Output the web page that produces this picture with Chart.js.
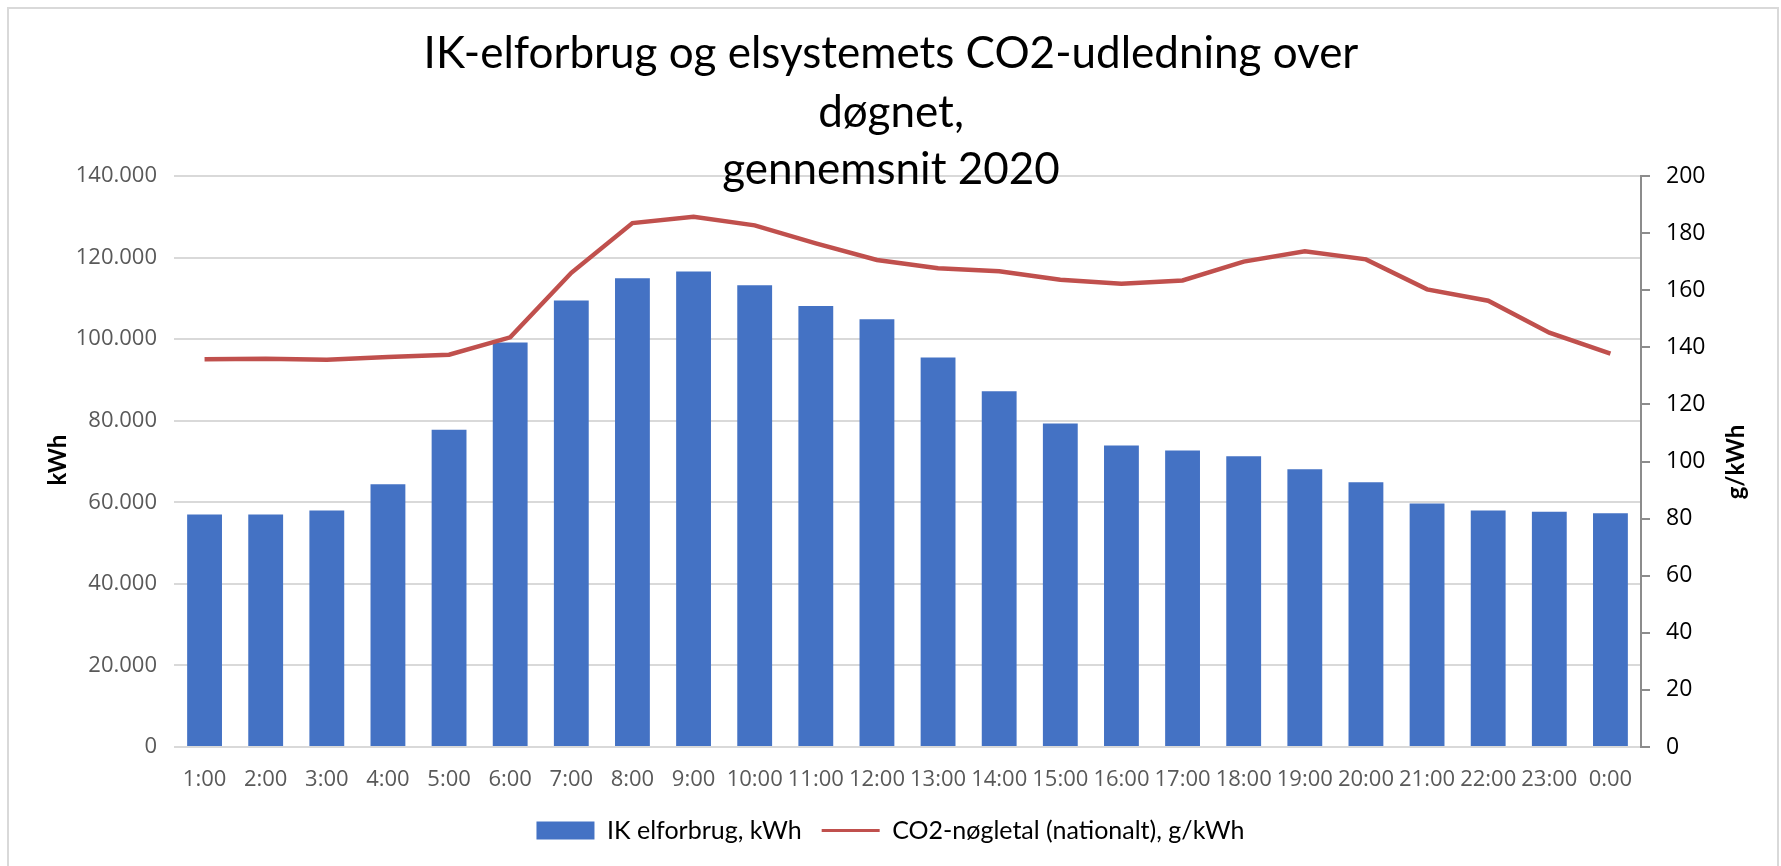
<!DOCTYPE html>
<html>
<head>
<meta charset="utf-8">
<script src="https://cdn.jsdelivr.net/npm/chart.js@4.4.1/dist/chart.umd.min.js"></script>
<style>
  html, body { margin: 0; padding: 0; background: #fff; overflow: hidden; }
  canvas { display: block; }
</style>
</head>
<body>
<canvas id="chart" width="1781" height="866"></canvas>
<script>
var hours = ["1:00", "2:00", "3:00", "4:00", "5:00", "6:00", "7:00", "8:00", "9:00", "10:00", "11:00", "12:00",
    "13:00", "14:00", "15:00", "16:00", "17:00", "18:00", "19:00", "20:00", "21:00", "22:00", "23:00", "0:00"];
// IK elforbrug, kWh
var kwhValues = [57000, 57000, 58000, 64400, 77800, 99200, 109500, 114900, 116600, 113200, 108100, 104900,
    95500, 87200, 79300, 73900, 72700, 71300, 68100, 64900, 59700, 58000, 57700, 57300];
// CO2-nøgletal (nationalt), g/kWh
var co2Values = [135.8, 136.0, 135.6, 136.6, 137.4, 143.5, 166.1, 183.5, 185.7, 182.7, 176.4, 170.6,
    167.7, 166.6, 163.7, 162.3, 163.4, 170.0, 173.6, 170.8, 160.3, 156.3, 145.1, 137.8];
var kwhTickLabels = ["0", "20.000", "40.000", "60.000", "80.000", "100.000", "120.000", "140.000"];
var titleLines = ["IK-elforbrug og elsystemets CO2-udledning over", "døgnet,", "gennemsnit 2020"];
var barLabel = "IK elforbrug, kWh";
var lineLabel = "CO2-nøgletal (nationalt), g/kWh";

var tickFont = { family: "'Open Sans', sans-serif", size: 22 };

// title, axis titles and the outer frame
var decorPlugin = {
    id: "decor",
    beforeDraw: function (chart) {
        var ctx = chart.ctx;
        ctx.save();
        ctx.fillStyle = "#fff";
        ctx.fillRect(0, 0, chart.width, chart.height);
        ctx.strokeStyle = "#d9d9d9";
        ctx.lineWidth = 2;
        ctx.strokeRect(8, 8, 1770, 900);
        ctx.restore();
    },
    afterDraw: function (chart) {
        var ctx = chart.ctx;
        ctx.save();
        ctx.fillStyle = "#000";
        ctx.textAlign = "center";
        ctx.textBaseline = "middle";
        ctx.font = "44px Lato, sans-serif";
        var ys = [54, 113, 170];
        for (var i = 0; i < titleLines.length; i++) {
            ctx.fillText(titleLines[i], 891, ys[i]);
        }
        ctx.font = "bold 24px Lato, sans-serif";
        ctx.translate(58, 460);
        ctx.rotate(-Math.PI / 2);
        ctx.fillText("kWh", 0, 0);
        ctx.restore();
        ctx.save();
        ctx.fillStyle = "#000";
        ctx.textAlign = "center";
        ctx.textBaseline = "middle";
        ctx.font = "bold 24px Lato, sans-serif";
        ctx.translate(1736, 462);
        ctx.rotate(-Math.PI / 2);
        ctx.fillText("g/kWh", 0, 0);
        ctx.restore();
    }
};

new Chart(document.getElementById("chart"), {
    data: {
        labels: hours,
        datasets: [
            {
                type: "line",
                label: lineLabel,
                data: co2Values,
                yAxisID: "y2",
                borderColor: "#c0504d",
                backgroundColor: "#c0504d",
                borderWidth: 4.5,
                pointRadius: 0,
                tension: 0,
                order: 0
            },
            {
                type: "bar",
                label: barLabel,
                data: kwhValues,
                yAxisID: "y",
                backgroundColor: "#4472c4",
                barPercentage: 0.57,
                categoryPercentage: 1,
                order: 1
            }
        ]
    },
    options: {
        responsive: false,
        animation: false,
        layout: { padding: { top: 176, left: 0, right: 0, bottom: 13 } },
        plugins: {
            title: { display: false },
            tooltip: { enabled: false },
            legend: {
                position: "bottom",
                reverse: true,
                labels: {
                    usePointStyle: true,
                    pointStyleWidth: 58,
                    boxHeight: 18,
                    padding: 20,
                    color: "#000",
                    font: { family: "Lato, sans-serif", size: 25 },
                    generateLabels: function (chart) {
                        var items = Chart.defaults.plugins.legend.labels.generateLabels(chart);
                        items.forEach(function (it) {
                            var ds = chart.data.datasets[it.datasetIndex];
                            it.pointStyle = ds.type === "line" ? "line" : "rect";
                            if (ds.type === "line") { it.lineWidth = 3; }
                        });
                        return items;
                    }
                }
            }
        },
        scales: {
            x: {
                grid: { display: false },
                border: { display: false },
                ticks: { color: "#595959", font: tickFont, padding: 12, maxRotation: 0, autoSkip: false },
                afterFit: function (s) { s.height = 51; }
            },
            y: {
                position: "left",
                min: 0,
                max: 140000,
                ticks: {
                    stepSize: 20000,
                    color: "#595959",
                    font: tickFont,
                    padding: 17,
                    callback: function (v, i) { return kwhTickLabels[i]; }
                },
                grid: { color: "#d9d9d9", lineWidth: 2, drawTicks: false },
                border: { display: false },
                afterFit: function (s) { s.width = 174; }
            },
            y2: {
                position: "right",
                min: 0,
                max: 200,
                ticks: { stepSize: 20, color: "#000", font: { family: "'Open Sans', sans-serif", size: 23 }, padding: 16 },
                grid: { drawOnChartArea: false, color: "#8c8c8c", lineWidth: 2, tickLength: 9 },
                border: { display: true, color: "#8c8c8c", width: 2 },
                afterFit: function (s) { s.width = 140; }
            }
        }
    },
    plugins: [decorPlugin]
});
</script>
</body>
</html>
